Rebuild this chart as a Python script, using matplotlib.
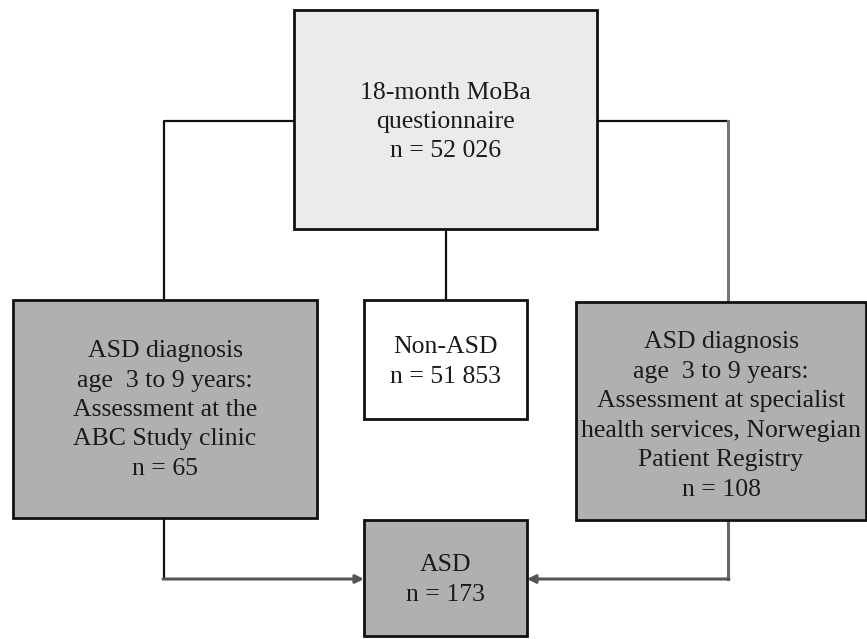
import matplotlib.pyplot as plt
from matplotlib.patches import Rectangle

# box labels
top_label = "18-month MoBa\nquestionnaire\nn = 52 026"
left_label = "ASD diagnosis\nage  3 to 9 years:\nAssessment at the\nABC Study clinic\nn = 65"
mid_label = "Non-ASD\nn = 51 853"
right_label = ("ASD diagnosis\nage  3 to 9 years:\nAssessment at specialist\n"
               "health services, Norwegian\nPatient Registry\nn = 108")
bottom_label = "ASD\nn = 173"

fig = plt.figure(figsize=(8.67, 6.39), dpi=100)
ax = fig.add_axes([0, 0, 1, 1])
ax.set_xlim(0, 867)
ax.set_ylim(639, 0)
ax.axis('off')

def box(x0, y0, x1, y1, fc, text, ty=None):
    ax.add_patch(Rectangle((x0, y0), x1 - x0, y1 - y0, facecolor=fc,
                           edgecolor='#111111', linewidth=2, zorder=3))
    if ty is None:
        ty = (y0 + y1) / 2
    ax.text((x0 + x1) / 2, ty, text, ha='center', va='center',
            family='Liberation Serif', fontsize=18.5, color='#1a1a1a',
            linespacing=1.44, zorder=4)

# connectors from the questionnaire box
dark = dict(color='#111111', lw=1.6, zorder=2, solid_capstyle='butt')
ax.plot([294, 164, 164], [121, 121, 300], **dark)
ax.plot([446, 446], [229, 300], **dark)
ax.plot([597, 728], [121, 121], **dark)
ax.plot([728, 728], [121, 302], color='#777777', lw=2.2, zorder=2)

# arrows into the ASD box
ax.plot([164, 164], [518, 579], **dark)
ax.plot([728, 728], [520, 579], color='#666666', lw=2.2, zorder=2)
ax.annotate('', xy=(364, 579), xytext=(163, 579),
            arrowprops=dict(arrowstyle='-|>', color='#555555', lw=2.2,
                            mutation_scale=12, shrinkA=0, shrinkB=0), zorder=2)
ax.annotate('', xy=(527, 579), xytext=(729, 579),
            arrowprops=dict(arrowstyle='-|>', color='#555555', lw=2.2,
                            mutation_scale=12, shrinkA=0, shrinkB=0), zorder=2)

box(294, 10, 597, 229, '#ebebeb', top_label, ty=122)
box(13, 300, 317, 518, '#b0b0b0', left_label, ty=410)
box(364, 300, 527, 419, 'white', mid_label, ty=362)
box(576, 302, 866, 520, '#b0b0b0', right_label, ty=416)
box(364, 520, 527, 636, '#b0b0b0', bottom_label, ty=580)

fig.savefig('out.png', dpi=100)
